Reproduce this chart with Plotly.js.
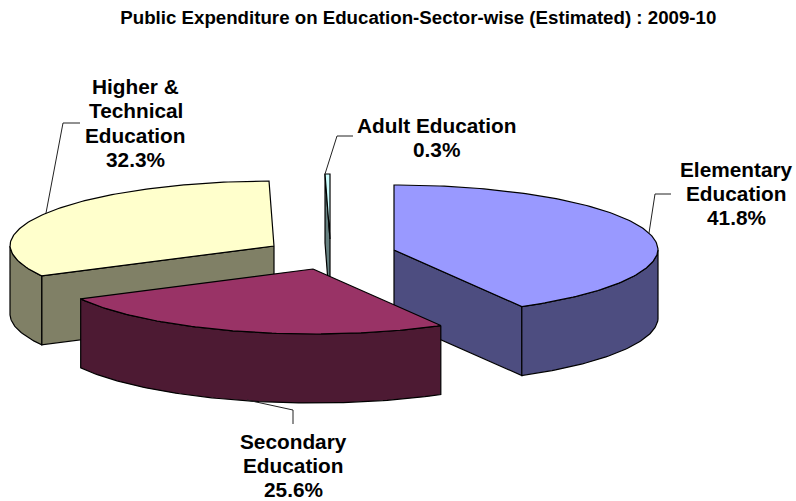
<!DOCTYPE html>
<html>
<head>
<meta charset="utf-8">
<script src="https://cdn.plot.ly/plotly-3.0.1.min.js"></script>
<style>html,body{margin:0;padding:0;background:#fff}#chart{width:796px;height:501px}</style>
</head>
<body>
<div id="chart"></div>
<script>
// Sector shares, in percent, clockwise from twelve o'clock
const categories = ['Elementary Education', 'Secondary Education', 'Higher & Technical Education', 'Adult Education'];
const shares = [41.8, 25.6, 32.3, 0.3];
const labelLines = [['Elementary', 'Education'], ['Secondary', 'Education'], ['Higher &', 'Technical', 'Education'], ['Adult Education']];
const topColors = ['#9999FF', '#993366', '#FFFFCC', '#CCFFFF'];
const wallColors = ['#4D4D80', '#4D1A33', '#808066', '#668080'];
const chartTitle = 'Public Expenditure on Education-Sector-wise (Estimated) : 2009-10';

// Projection of the tilted, exploded pie
const RX = 264, RY = 65, DEPTH = 69, FORESHORTEN = 0.02;
const apexes = [[394, 250], [313, 269], [274, 246], [330, 239]];
const labelAnchors = [[736.5, 169], [293, 441], [135.5, 86.5], [436, 125]];
const LINE_STEP = 24.3;

function rim(apex, deg, drop) {
  const a = deg * Math.PI / 180;
  // The near half of the ellipse narrows slightly under the view's perspective
  const squeeze = 1 - FORESHORTEN * Math.max(0, -Math.cos(a));
  return [apex[0] + RX * Math.sin(a) * squeeze, apex[1] - RY * Math.cos(a) + drop];
}
function arc(apex, from, to, drop) {
  const pts = [];
  const n = Math.max(2, Math.ceil(Math.abs(to - from)));
  for (let i = 0; i <= n; i++) pts.push(rim(apex, from + (to - from) * i / n, drop));
  return pts;
}
function polygon(pts, fill) {
  const closed = pts.concat([pts[0]]);
  return {
    x: closed.map(p => p[0]), y: closed.map(p => p[1]),
    type: 'scatter', mode: 'lines', fill: 'toself', fillcolor: fill,
    line: {color: '#000', width: 1.2, shape: 'linear'},
    hoverinfo: 'skip', showlegend: false
  };
}

// Turn each share into its angular span
const spans = [];
shares.reduce((start, v) => {
  const end = start + v * 3.6;
  spans.push([start, end]);
  return end;
}, 0);

function sliceTraces(i) {
  const apex = apexes[i], [a0, a1] = spans[i], t = [];
  const low = [apex[0], apex[1] + DEPTH];
  // Radial cut faces that turn toward the viewer
  if (a1 <= 180) t.push(polygon([apex, rim(apex, a1, 0), rim(apex, a1, DEPTH), low], wallColors[i]));
  if (a0 >= 180) t.push(polygon([apex, rim(apex, a0, 0), rim(apex, a0, DEPTH), low], wallColors[i]));
  // Outer rim, only the part on the near half of the ellipse
  const w0 = Math.max(a0, 90), w1 = Math.min(a1, 270);
  if (w1 > w0) t.push(polygon(arc(apex, w0, w1, 0).concat(arc(apex, w1, w0, DEPTH)), wallColors[i]));
  // Top face
  t.push(polygon([apex].concat(arc(apex, a0, a1, 0)), topColors[i]));
  return t;
}

const traces = [3, 2, 0, 1].flatMap(sliceTraces);

// Category labels, one annotation per line, with the share on the last line
const annotations = [];
labelLines.forEach((lines, i) => {
  lines.concat([shares[i].toFixed(1) + '%']).forEach((text, k) => {
    annotations.push({
      x: labelAnchors[i][0], y: labelAnchors[i][1] + k * LINE_STEP,
      xref: 'x', yref: 'y', text: '<b>' + text + '</b>', showarrow: false,
      xanchor: 'center', yanchor: 'middle',
      font: {family: '"Liberation Sans", Arial, sans-serif', size: 20.8, color: '#000'}
    });
  });
});

const leader = d => ({type: 'path', path: d, xref: 'x', yref: 'y', line: {color: '#222', width: 1}});

const layout = {
  width: 796, height: 501,
  margin: {l: 0, r: 0, t: 0, b: 0},
  paper_bgcolor: '#fff', plot_bgcolor: '#fff',
  title: {
    text: '<b>' + chartTitle + '</b>', x: 0.5255, xanchor: 'center', y: 0.965, yanchor: 'middle',
    font: {family: '"Liberation Sans", Arial, sans-serif', size: 18.7, color: '#000'}
  },
  xaxis: {range: [0, 796], visible: false, fixedrange: true},
  yaxis: {range: [501, 0], visible: false, fixedrange: true},
  showlegend: false,
  annotations: annotations,
  shapes: [
    leader('M649,233 L655,194 L671,194'),
    leader('M46,213 L63,123 L80,123'),
    leader('M247,400 L293,410 L293,424'),
    leader('M325,174 L337,136 L353,136')
  ]
};

Plotly.newPlot('chart', traces, layout, {displayModeBar: false, staticPlot: true});
</script>
</body>
</html>
